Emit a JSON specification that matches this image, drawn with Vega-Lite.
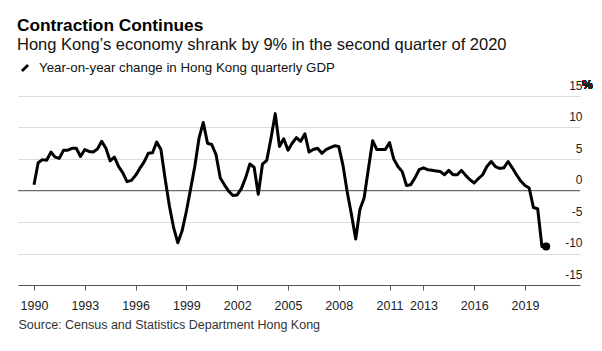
{
  "$schema": "https://vega.github.io/schema/vega-lite/v6.json",
  "width": 562,
  "height": 189,
  "autosize": {"type": "none"},
  "padding": {"left": 18, "top": 96, "right": 22, "bottom": 66},
  "background": "white",
  "title": {
    "text": "Contraction Continues",
    "subtitle": "Hong Kong’s economy shrank by 9% in the second quarter of 2020",
    "anchor": "start",
    "frame": "group",
    "font": "Liberation Sans",
    "fontSize": 17.3,
    "fontWeight": "bold",
    "color": "#000",
    "subtitleFont": "Liberation Sans",
    "subtitleFontSize": 16.5,
    "subtitleColor": "#111",
    "subtitlePadding": 3,
    "offset": 6,
    "dx": -1
  },
  "config": {"view": {"stroke": null}, "font": "Liberation Sans"},
  "data": {
    "values": [
      {"date": "1990-01-01", "gdp": 0.9}, {"date": "1990-04-01", "gdp": 4.4}, {"date": "1990-07-01", "gdp": 4.9}, {"date": "1990-10-01", "gdp": 4.8},
      {"date": "1991-01-01", "gdp": 6.1}, {"date": "1991-04-01", "gdp": 5.3}, {"date": "1991-07-01", "gdp": 5.1}, {"date": "1991-10-01", "gdp": 6.4},
      {"date": "1992-01-01", "gdp": 6.4}, {"date": "1992-04-01", "gdp": 6.7}, {"date": "1992-07-01", "gdp": 6.7}, {"date": "1992-10-01", "gdp": 5.4},
      {"date": "1993-01-01", "gdp": 6.5}, {"date": "1993-04-01", "gdp": 6.2}, {"date": "1993-07-01", "gdp": 6.1}, {"date": "1993-10-01", "gdp": 6.6},
      {"date": "1994-01-01", "gdp": 7.8}, {"date": "1994-04-01", "gdp": 6.7}, {"date": "1994-07-01", "gdp": 4.7}, {"date": "1994-10-01", "gdp": 5.3},
      {"date": "1995-01-01", "gdp": 3.8}, {"date": "1995-04-01", "gdp": 2.8}, {"date": "1995-07-01", "gdp": 1.4}, {"date": "1995-10-01", "gdp": 1.6},
      {"date": "1996-01-01", "gdp": 2.4}, {"date": "1996-04-01", "gdp": 3.5}, {"date": "1996-07-01", "gdp": 4.5}, {"date": "1996-10-01", "gdp": 5.9},
      {"date": "1997-01-01", "gdp": 6.0}, {"date": "1997-04-01", "gdp": 7.7}, {"date": "1997-07-01", "gdp": 6.5}, {"date": "1997-10-01", "gdp": 1.8},
      {"date": "1998-01-01", "gdp": -2.5}, {"date": "1998-04-01", "gdp": -5.9}, {"date": "1998-07-01", "gdp": -8.3}, {"date": "1998-10-01", "gdp": -6.4},
      {"date": "1999-01-01", "gdp": -3.3}, {"date": "1999-04-01", "gdp": 0.2}, {"date": "1999-07-01", "gdp": 3.8}, {"date": "1999-10-01", "gdp": 8.3},
      {"date": "2000-01-01", "gdp": 10.8}, {"date": "2000-04-01", "gdp": 7.5}, {"date": "2000-07-01", "gdp": 7.3}, {"date": "2000-10-01", "gdp": 5.7},
      {"date": "2001-01-01", "gdp": 2.0}, {"date": "2001-04-01", "gdp": 0.9}, {"date": "2001-07-01", "gdp": -0.1}, {"date": "2001-10-01", "gdp": -0.8},
      {"date": "2002-01-01", "gdp": -0.7}, {"date": "2002-04-01", "gdp": 0.3}, {"date": "2002-07-01", "gdp": 2.0}, {"date": "2002-10-01", "gdp": 4.2},
      {"date": "2003-01-01", "gdp": 3.7}, {"date": "2003-04-01", "gdp": -0.6}, {"date": "2003-07-01", "gdp": 4.2}, {"date": "2003-10-01", "gdp": 4.8},
      {"date": "2004-01-01", "gdp": 8.3}, {"date": "2004-04-01", "gdp": 12.2}, {"date": "2004-07-01", "gdp": 7.0}, {"date": "2004-10-01", "gdp": 8.2},
      {"date": "2005-01-01", "gdp": 6.4}, {"date": "2005-04-01", "gdp": 7.5}, {"date": "2005-07-01", "gdp": 8.4}, {"date": "2005-10-01", "gdp": 7.8},
      {"date": "2006-01-01", "gdp": 9.0}, {"date": "2006-04-01", "gdp": 6.1}, {"date": "2006-07-01", "gdp": 6.5}, {"date": "2006-10-01", "gdp": 6.7},
      {"date": "2007-01-01", "gdp": 5.9}, {"date": "2007-04-01", "gdp": 6.5}, {"date": "2007-07-01", "gdp": 6.8}, {"date": "2007-10-01", "gdp": 7.1},
      {"date": "2008-01-01", "gdp": 7.0}, {"date": "2008-04-01", "gdp": 4.0}, {"date": "2008-07-01", "gdp": -0.2}, {"date": "2008-10-01", "gdp": -3.8},
      {"date": "2009-01-01", "gdp": -7.7}, {"date": "2009-04-01", "gdp": -3.0}, {"date": "2009-07-01", "gdp": -1.2}, {"date": "2009-10-01", "gdp": 3.4},
      {"date": "2010-01-01", "gdp": 7.9}, {"date": "2010-04-01", "gdp": 6.5}, {"date": "2010-07-01", "gdp": 6.5}, {"date": "2010-10-01", "gdp": 6.5},
      {"date": "2011-01-01", "gdp": 7.6}, {"date": "2011-04-01", "gdp": 5.0}, {"date": "2011-07-01", "gdp": 3.8}, {"date": "2011-10-01", "gdp": 3.0},
      {"date": "2012-01-01", "gdp": 0.8}, {"date": "2012-04-01", "gdp": 0.9}, {"date": "2012-07-01", "gdp": 2.0}, {"date": "2012-10-01", "gdp": 3.3},
      {"date": "2013-01-01", "gdp": 3.6}, {"date": "2013-04-01", "gdp": 3.3}, {"date": "2013-07-01", "gdp": 3.2}, {"date": "2013-10-01", "gdp": 3.1},
      {"date": "2014-01-01", "gdp": 3.0}, {"date": "2014-04-01", "gdp": 2.5}, {"date": "2014-07-01", "gdp": 3.2}, {"date": "2014-10-01", "gdp": 2.5},
      {"date": "2015-01-01", "gdp": 2.5}, {"date": "2015-04-01", "gdp": 3.2}, {"date": "2015-07-01", "gdp": 2.4}, {"date": "2015-10-01", "gdp": 1.7},
      {"date": "2016-01-01", "gdp": 1.2}, {"date": "2016-04-01", "gdp": 1.9}, {"date": "2016-07-01", "gdp": 2.5}, {"date": "2016-10-01", "gdp": 3.8},
      {"date": "2017-01-01", "gdp": 4.6}, {"date": "2017-04-01", "gdp": 3.8}, {"date": "2017-07-01", "gdp": 3.5}, {"date": "2017-10-01", "gdp": 3.6},
      {"date": "2018-01-01", "gdp": 4.6}, {"date": "2018-04-01", "gdp": 3.6}, {"date": "2018-07-01", "gdp": 2.5}, {"date": "2018-10-01", "gdp": 1.5},
      {"date": "2019-01-01", "gdp": 0.8}, {"date": "2019-04-01", "gdp": 0.4}, {"date": "2019-07-01", "gdp": -2.7}, {"date": "2019-10-01", "gdp": -2.9},
      {"date": "2020-01-01", "gdp": -8.9}, {"date": "2020-04-01", "gdp": -8.9}
    ]
  },
  "layer": [
    {
      "mark": {"type": "rule", "color": "#6b6b6b", "strokeWidth": 1},
      "encoding": {
        "y": {"datum": 0, "type": "quantitative"}
      }
    },
    {
      "mark": {"type": "line", "strokeWidth": 3, "strokeJoin": "round"},
      "encoding": {
        "x": {
          "field": "date",
          "type": "temporal",
          "scale": {"domain": [{"year": 1989, "month": 1, "date": 21}, {"year": 2022, "month": 4, "date": 1}]},
          "axis": {
            "values": [{"year": 1990}, {"year": 1993}, {"year": 1996}, {"year": 1999}, {"year": 2002}, {"year": 2005}, {"year": 2008}, {"year": 2011}, {"year": 2013}, {"year": 2016}, {"year": 2019}],
            "tickCount": 20,
            "format": "%Y",
            "grid": false,
            "domainColor": "#555",
            "tickColor": "#555",
            "tickSize": 5,
            "labelFontSize": 12.5,
            "labelColor": "#222",
            "labelPadding": 9,
            "labelOverlap": false,
            "title": "Source: Census and Statistics Department Hong Kong",
            "titleAnchor": "start",
            "titleAlign": "left",
            "titleFontSize": 12.5,
            "titleFontWeight": "normal",
            "titleColor": "#333",
            "titlePadding": 7
          }
        },
        "y": {
          "field": "gdp",
          "type": "quantitative",
          "scale": {"domain": [-15, 15], "nice": false},
          "axis": {
            "orient": "right",
            "values": [-15, -10, -5, 0, 5, 10, 15],
            "tickCount": 10,
            "grid": true,
            "gridColor": "#dcdcdc",
            "gridWidth": 1,
            "domain": false,
            "ticks": false,
            "labelPadding": 2,
            "labelAlign": "right",
            "labelBaseline": "alphabetic",
            "labelOffset": -7,
            "labelOverlap": false,
            "labelFontSize": 12,
            "labelColor": "#222",
            "labelExpr": "datum.value < 0 ? '-' + abs(datum.value) : '' + datum.value",
            "title": null,
            "zindex": 0
          }
        },
        "color": {
          "datum": "Year-on-year change in Hong Kong quarterly GDP",
          "scale": {"range": ["#000000"]},
          "legend": {
            "orient": "none",
            "legendX": -1,
            "legendY": -36,
            "title": null,
            "symbolType": "M-0.5,0.5L0.5,-0.5",
            "symbolSize": 150,
            "symbolStrokeWidth": 2.8,
            "symbolStrokeColor": "#000",
            "labelFontSize": 13.3,
            "labelColor": "#111",
            "labelOffset": 6,
            "labelLimit": 0
          }
        }
      }
    },
    {
      "transform": [
        {"joinaggregate": [{"op": "max", "field": "date", "as": "maxd"}]},
        {"filter": "time(datum.date) >= time(datum.maxd)"}
      ],
      "mark": {"type": "point", "filled": true, "size": 65, "color": "#000", "opacity": 1},
      "encoding": {
        "x": {"field": "date", "type": "temporal"},
        "y": {"field": "gdp", "type": "quantitative"}
      }
    },
    {
      "mark": {"type": "text", "text": "%", "align": "left", "baseline": "alphabetic", "dx": 2, "dy": -7, "fontSize": 12, "color": "#222"},
      "encoding": {
        "x": {"datum": {"year": 2022, "month": 4, "date": 1}, "type": "temporal"},
        "y": {"datum": 15, "type": "quantitative"}
      }
    }
  ]
}
